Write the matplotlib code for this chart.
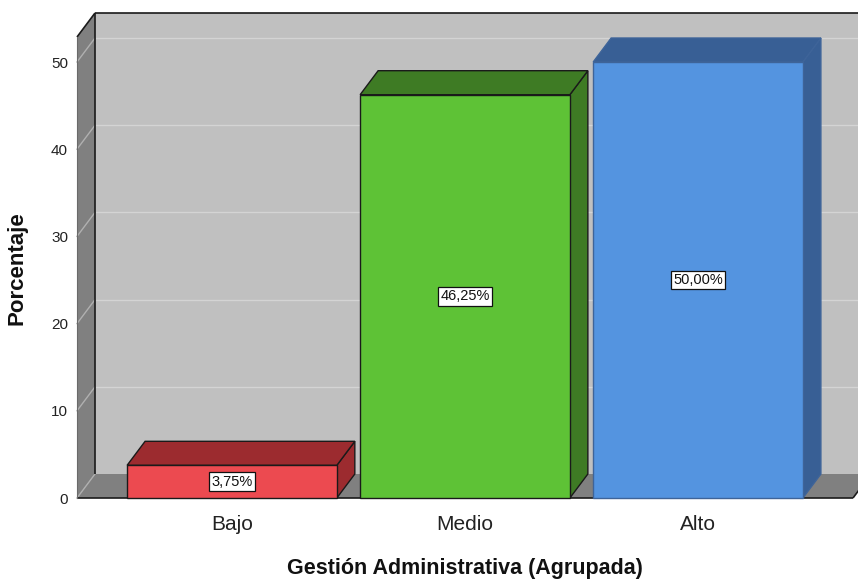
import matplotlib
matplotlib.use("Agg")
import matplotlib.pyplot as plt
from matplotlib.patches import Polygon, Rectangle

# Data
categories = ["Bajo", "Medio", "Alto"]
percentages = [3.75, 46.25, 50.00]
value_labels = ["3,75%", "46,25%", "50,00%"]
yticks = [0, 10, 20, 30, 40, 50]

# Styling
front_colors = ["#ec4a50", "#5ec236", "#5494e0"]
shade_colors = ["#9c2b2f", "#3e7b24", "#385f95"]
edge_colors = ["#1a1a1a", "#1a1a1a", "#3e6499"]
wall_back = "#c0c0c0"
wall_side = "#808080"
grid_back = "#d4d4d4"
grid_side = "#b0b0b0"

plt.rcParams["font.family"] = ["Liberation Sans", "DejaVu Sans"]

fig = plt.figure(figsize=(8.58, 5.80), dpi=100)
fig.patch.set_facecolor("white")
ax = fig.add_axes([77 / 858, 82 / 580, 776 / 858, 461 / 580])

X0, X1 = -0.665, 2.665
PX_PER_UNIT = 8.72
Y1 = 461 / PX_PER_UNIT
ax.set_xlim(X0, X1)
ax.set_ylim(0, Y1)
ax.patch.set_visible(False)
for s in ax.spines.values():
    s.set_visible(False)

# depth of the pseudo-3D box, in data units
DX = 18 / 233
DY = 24 / PX_PER_UNIT
BW = 0.9

# back wall
ax.add_patch(Rectangle((X0 + DX, DY), (X1 - X0) + 0.5, Y1, fc=wall_back,
                       ec="none", zorder=0.5, clip_on=False))
# grid lines on back wall and left wall
for t in yticks[1:]:
    ax.plot([X0 + DX, X1 + DX + 0.5], [t + DY, t + DY], color=grid_back,
            lw=1.0, zorder=0.6, clip_on=False)
# left wall
ax.add_patch(Polygon([(X0, 0), (X0, Y1), (X0 + DX, Y1 + DY), (X0 + DX, DY)],
                     closed=True, fc=wall_side, ec="none", zorder=0.7,
                     clip_on=False))
# floor
ax.add_patch(Polygon([(X0, 0), (X1, 0), (X1 + DX, DY), (X0 + DX, DY)],
                     closed=True, fc=wall_side, ec="none", zorder=0.7,
                     clip_on=False))
for t in yticks:
    ax.plot([X0, X0 + DX], [t, t + DY], color=grid_side, lw=1.0,
            zorder=0.8, clip_on=False)

# dark frame edges
edge_kw = dict(color="#1a1a1a", lw=1.2, zorder=0.9, clip_on=False,
               solid_capstyle="butt")
ax.plot([X0 + DX, X1 + DX + 0.5], [Y1 + DY, Y1 + DY], **edge_kw)
ax.plot([X0, X0 + DX], [Y1, Y1 + DY], **edge_kw)
ax.plot([X0 + DX, X0 + DX], [DY, Y1 + DY], **edge_kw)
ax.plot([X0, X1], [0, 0], **edge_kw)
ax.plot([X1, X1 + DX], [0, DY], **edge_kw)
ax.plot([X0, X0], [0, Y1], color="#6a6a6a", lw=0.8, zorder=0.9,
        clip_on=False)

# bars
for i, (v, lab) in enumerate(zip(percentages, value_labels)):
    left, right = i - BW / 2, i + BW / 2
    ec = edge_colors[i]
    z = 2 + i
    ax.add_patch(Polygon([(right, 0), (right + DX, DY), (right + DX, v + DY),
                          (right, v)], closed=True, fc=shade_colors[i],
                         ec=ec, lw=1.0, zorder=z, clip_on=False,
                         joinstyle="miter"))
    ax.add_patch(Polygon([(left, v), (right, v), (right + DX, v + DY),
                          (left + DX, v + DY)], closed=True,
                         fc=shade_colors[i], ec=ec, lw=1.0, zorder=z,
                         clip_on=False, joinstyle="miter"))
    ax.add_patch(Rectangle((left, 0), BW, v, fc=front_colors[i], ec=ec,
                           lw=1.0, zorder=z + 0.1, clip_on=False))
    ax.text(i, v / 2, lab, ha="center", va="center", fontsize=10.5,
            color="#111111", zorder=10,
            bbox=dict(boxstyle="square,pad=0.15", fc="white", ec="#111111",
                      lw=0.9))

# axes ticks and labels
ax.set_yticks(yticks)
ax.set_yticklabels([str(t) for t in yticks])
ax.tick_params(axis="y", length=0, pad=6.5, labelsize=11, colors="#222222")
ax.set_xticks(range(len(categories)))
ax.set_xticklabels(categories)
ax.tick_params(axis="x", length=0, pad=23, labelsize=15, colors="#222222")
for lbl in ax.get_xticklabels():
    lbl.set_va("baseline")

fig.text(465 / 858, (580 - 574) / 580, "Gestión Administrativa (Agrupada)",
         ha="center", va="baseline", fontsize=15.5, fontweight="bold",
         color="#111111")
fig.text(28 / 858, (580 - 268) / 580, "Porcentaje", rotation=90,
         ha="right", va="center", fontsize=16, fontweight="bold",
         color="#111111")

fig.savefig("out.png", dpi=100, facecolor="white")
